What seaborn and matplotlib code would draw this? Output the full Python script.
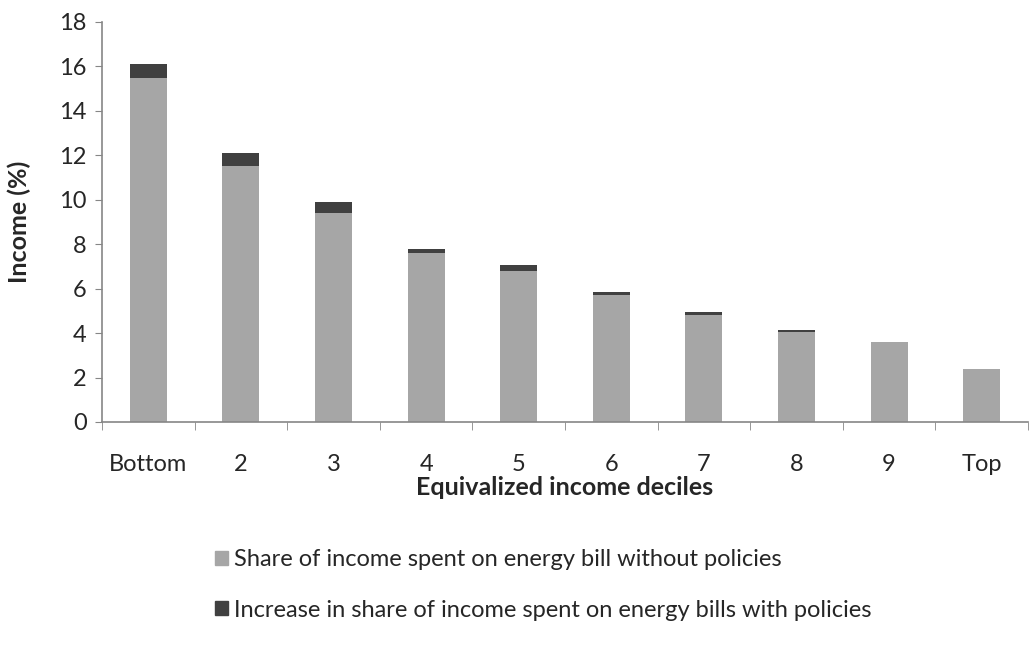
import numpy as np
import pandas as pd
import matplotlib
matplotlib.use('Agg')
import matplotlib.pyplot as plt
import seaborn as sns
from matplotlib.patches import Patch

sns.set_style('white')
plt.rcParams['font.family'] = ['Lato', 'DejaVu Sans']

# Data
deciles = ['Bottom', '2', '3', '4', '5', '6', '7', '8', '9', 'Top']
share_without = [15.5, 11.5, 9.4, 7.6, 6.8, 5.7, 4.8, 4.05, 3.6, 2.4]
increase_with = [0.6, 0.6, 0.5, 0.2, 0.25, 0.15, 0.15, 0.07, 0.0, 0.0]

df = pd.DataFrame({'decile': deciles,
                   'without': share_without,
                   'increase': increase_with})
df['total'] = df['without'] + df['increase']

light = '#a6a6a6'
dark = '#404040'
axis_col = '#868686'
fs = 17

fig = plt.figure(figsize=(10.33, 6.48), dpi=100)
ax = fig.add_axes([102 / 1033, 1 - 422 / 648, 926 / 1033, 400 / 648])

sns.barplot(data=df, x='decile', y='total', color=dark, width=0.4,
            saturation=1, ax=ax, edgecolor='none')
sns.barplot(data=df, x='decile', y='without', color=light, width=0.4,
            saturation=1, ax=ax, edgecolor='none')

ax.set_ylim(0, 18)
ax.set_xlim(-0.5, len(deciles) - 0.5)
ax.set_yticks(np.arange(0, 19, 2))
ax.tick_params(axis='y', labelsize=fs, length=5, color=axis_col, direction='out', left=True, pad=6)
ax.tick_params(axis='x', labelsize=fs, length=0, pad=23)
ax.set_xticks(np.arange(-0.5, len(deciles), 1), minor=True)
ax.tick_params(axis='x', which='minor', length=6, color=axis_col, bottom=True)

for s in ['top', 'right']:
    ax.spines[s].set_visible(False)
for s in ['left', 'bottom']:
    ax.spines[s].set_color(axis_col)
    ax.spines[s].set_linewidth(1.2)

ax.set_xlabel('Equivalized income deciles', fontsize=18, fontweight='bold', labelpad=1)
ax.set_ylabel('Income (%)', fontsize=18, fontweight='bold', labelpad=20)

handles = [Patch(color=light, label='Share of income spent on energy bill without policies'),
           Patch(color=dark, label='Increase in share of income spent on energy bills with policies')]
fig.legend(handles=handles, loc='upper left', bbox_to_anchor=(215 / 1033, 1 - 549 / 648),
           frameon=False, fontsize=fs, handlelength=0.55, handleheight=0.55, borderpad=0,
           borderaxespad=0, handletextpad=0.25, labelspacing=1.25)

fig.savefig('out.png', dpi=100)
